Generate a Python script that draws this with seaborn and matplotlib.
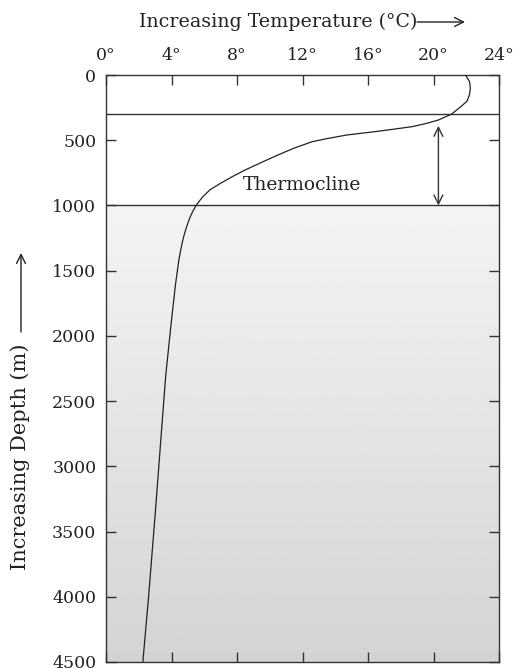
import numpy as np
import matplotlib
matplotlib.use("Agg")
import matplotlib.pyplot as plt
import seaborn as sns

# temperature profile (depth in m, temperature in deg C)
depth = [0, 50, 100, 150, 200, 250, 300, 345, 370, 396, 430, 460, 490, 511,
         560, 613, 670, 728, 780, 830, 880, 935, 970, 1000, 1050, 1100, 1180,
         1250, 1330, 1418, 1600, 1878, 2300, 2875, 3373, 4000, 4500]
temp = [21.95, 22.2, 22.25, 22.2, 22.05, 21.6, 21.1, 20.3, 19.6, 18.7, 16.7,
        14.7, 13.4, 12.6, 11.5, 10.5, 9.5, 8.5, 7.7, 7.0, 6.35, 5.9, 5.68,
        5.5, 5.28, 5.1, 4.88, 4.72, 4.58, 4.45, 4.25, 4.0, 3.65, 3.3, 3.0,
        2.6, 2.25]

temp_ticks = [0, 4, 8, 12, 16, 20, 24]
depth_ticks = [0, 500, 1000, 1500, 2000, 2500, 3000, 3500, 4000, 4500]
layer_bounds = [300, 1000]

sns.set_theme(style="white")
plt.rcParams['font.family'] = ['DejaVu Serif']
ink = "#333333"

fig = plt.figure(figsize=(5.16, 6.68), dpi=100)
ax = fig.add_axes([106 / 516, 1 - 662 / 668, 393 / 516, 587 / 668])

# grey gradient for the deep layer
grad = np.linspace(0.955, 0.83, 256).reshape(-1, 1)
ax.imshow(grad, cmap="gray", vmin=0, vmax=1, aspect="auto",
          extent=(0, 24, 4500, layer_bounds[1]), zorder=0)

sns.lineplot(x=temp, y=depth, sort=False, estimator=None, color="#222222",
             linewidth=0.9, ax=ax, zorder=3)

for b in layer_bounds:
    ax.axhline(b, color=ink, linewidth=1.0, zorder=2)

ax.set_xlim(0, 24)
ax.set_ylim(4500, 0)
ax.set_xticks(temp_ticks)
ax.set_xticklabels([f"{t}°" for t in temp_ticks])
ax.set_yticks(depth_ticks)
ax.set_yticklabels([str(d) for d in depth_ticks])
ax.xaxis.tick_top()
ax.tick_params(axis="x", which="both", direction="in", length=7, width=1,
               color=ink, top=True, bottom=True, labeltop=True,
               labelbottom=False, pad=8, labelsize=12.5, labelcolor="#222222")
ax.tick_params(axis="y", which="both", direction="in", length=7, width=1,
               color=ink, left=True, right=True, labelleft=True,
               labelright=False, pad=7, labelsize=12.5, labelcolor="#222222")
for s in ax.spines.values():
    s.set_color(ink)
    s.set_linewidth(1.0)
    s.set_visible(True)
ax.set_xlabel("")
ax.set_ylabel("")

# thermocline label and double arrow
ax.text(12, 843, "Thermocline", ha="center", va="center", fontsize=13.5,
        color="#222222", zorder=4)
ax.annotate("", xy=(20.3, 390), xytext=(20.3, 1000),
            arrowprops=dict(arrowstyle="<->", color=ink, lw=1.0,
                            mutation_scale=16, shrinkA=0, shrinkB=0))

# axis titles with arrows
fig.text(417 / 516, 1 - 22 / 668, "Increasing Temperature (°C)", ha="right",
         va="center", fontsize=13.7, color="#222222")
fig.patches.append(matplotlib.patches.FancyArrowPatch(
    (417 / 516, 1 - 22 / 668), (465 / 516, 1 - 22 / 668),
    transform=fig.transFigure, arrowstyle="->", mutation_scale=16,
    color="#222222", lw=1.0, shrinkA=0, shrinkB=0))
fig.text(20 / 516, 1 - 343 / 668, "Increasing Depth (m)", ha="center",
         va="top", rotation=90, fontsize=15, color="#222222")
fig.patches.append(matplotlib.patches.FancyArrowPatch(
    (21 / 516, 1 - 332 / 668), (21 / 516, 1 - 253 / 668),
    transform=fig.transFigure, arrowstyle="->", mutation_scale=16,
    color="#222222", lw=1.0, shrinkA=0, shrinkB=0))

fig.savefig("out.png", dpi=100)
